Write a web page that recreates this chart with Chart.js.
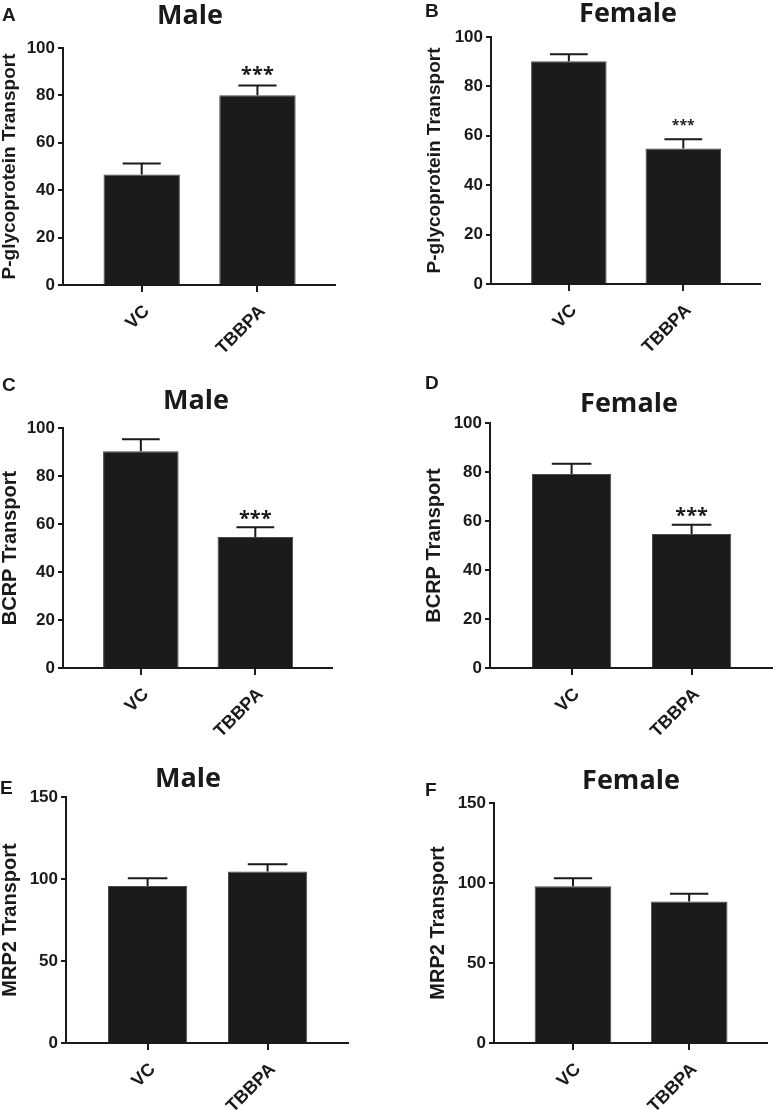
<!DOCTYPE html>
<html>
<head>
<meta charset="utf-8">
<script src="https://cdn.jsdelivr.net/npm/chart.js@4"></script>
<style>
  html, body { margin: 0; padding: 0; background: #fff; width: 773px; height: 1110px; overflow: hidden; position: relative; }
  .title { position: absolute; font: bold 27px "Open Sans"; line-height: 27px; color: #1a1a1a; transform: translateX(-50%); white-space: nowrap; }
  .letter { position: absolute; font: bold 19px "Liberation Sans"; line-height: 19px; color: #1a1a1a; }
</style>
</head>
<body>
<script>
// Groups on the x axis
const groups = ['VC', 'TBBPA'];

// P-glycoprotein transport (mean, SEM)
const pgpMale = [46.6, 80.1];
const pgpMaleSem = [4.7, 4.1];
const pgpFemale = [90.2, 54.9];
const pgpFemaleSem = [2.8, 3.7];

// BCRP transport
const bcrpMale = [90.3, 54.6];
const bcrpMaleSem = [5.0, 4.0];
const bcrpFemale = [79.2, 54.7];
const bcrpFemaleSem = [4.2, 3.8];

// MRP2 transport
const mrp2Male = [95.8, 104.6];
const mrp2MaleSem = [4.7, 4.4];
const mrp2Female = [97.9, 88.5];
const mrp2FemaleSem = [5.0, 4.8];

// significance marks and tick labels
const sigTbbpa = ['', '***'];
const noSig = ['', ''];
const ticks100 = [0, 20, 40, 60, 80, 100];
const ticks150 = [0, 50, 100, 150];

const ink = '#1a1a1a';
Chart.defaults.font.family = 'Liberation Sans';
Chart.defaults.color = ink;

// draws the upper SEM whisker and the stars over each bar
const errorBars = {
  id: 'errorBars',
  afterDatasetsDraw(chart, args, opts) {
    const { ctx } = chart;
    const yScale = chart.scales.y;
    const meta = chart.getDatasetMeta(0);
    const data = chart.data.datasets[0].data;
    ctx.save();
    ctx.strokeStyle = ink;
    ctx.fillStyle = ink;
    ctx.lineWidth = 2;
    meta.data.forEach((bar, i) => {
      const top = yScale.getPixelForValue(data[i].y + opts.sem[i]);
      const half = bar.width / 4;
      ctx.beginPath();
      ctx.moveTo(bar.x, bar.y);
      ctx.lineTo(bar.x, top);
      ctx.moveTo(bar.x - half, top);
      ctx.lineTo(bar.x + half, top);
      ctx.stroke();
      if (opts.stars[i]) {
        ctx.font = `bold ${opts.starSize}px "Open Sans"`;
        ctx.textAlign = 'center';
        ctx.textBaseline = 'alphabetic';
        ctx.fillText(opts.stars[i], bar.x, top - opts.starGap);
      }
    });
    ctx.restore();
  }
};

const panels = [
  { letter: 'A', title: 'Male', yLabel: 'P-glycoprotein Transport', yLabelSize: 19, values: pgpMale, sem: pgpMaleSem, stars: sigTbbpa, yTicks: ticks100,
    box: { left: 63, right: 335, top: 48, bottom: 285, canvasLeft: 0 }, titleAt: [190, 14], letterAt: [2, 7], starSize: 20, starGap: 4 },
  { letter: 'B', title: 'Female', yLabel: 'P-glycoprotein Transport', yLabelSize: 19, values: pgpFemale, sem: pgpFemaleSem, stars: sigTbbpa, yTicks: ticks100,
    box: { left: 491, right: 760, top: 37, bottom: 284, canvasLeft: 425 }, titleAt: [628, 12], letterAt: [425, 3], starSize: 14, starGap: 9 },
  { letter: 'C', title: 'Male', yLabel: 'BCRP Transport', yLabelSize: 20, values: bcrpMale, sem: bcrpMaleSem, stars: sigTbbpa, yTicks: ticks100,
    box: { left: 63, right: 332, top: 428, bottom: 668, canvasLeft: 0 }, titleAt: [196, 399], letterAt: [2, 377], starSize: 20, starGap: 2 },
  { letter: 'D', title: 'Female', yLabel: 'BCRP Transport', yLabelSize: 20, values: bcrpFemale, sem: bcrpFemaleSem, stars: sigTbbpa, yTicks: ticks100,
    box: { left: 490, right: 772, top: 423, bottom: 668, canvasLeft: 424 }, titleAt: [629, 402], letterAt: [425, 375], starSize: 20, starGap: 3 },
  { letter: 'E', title: 'Male', yLabel: 'MRP2 Transport', yLabelSize: 20, values: mrp2Male, sem: mrp2MaleSem, stars: noSig, yTicks: ticks150,
    box: { left: 66, right: 348, top: 797, bottom: 1043, canvasLeft: 0 }, titleAt: [188, 777], letterAt: [0, 780], starSize: 20, starGap: 2 },
  { letter: 'F', title: 'Female', yLabel: 'MRP2 Transport', yLabelSize: 20, values: mrp2Female, sem: mrp2FemaleSem, stars: noSig, yTicks: ticks150,
    box: { left: 494, right: 767, top: 803, bottom: 1043, canvasLeft: 428 }, titleAt: [631, 779], letterAt: [425, 782], starSize: 20, starGap: 2 }
];

panels.forEach(p => {
  const b = p.box;
  const padTop = 20;
  const padRight = 6;
  const xHeight = 70;
  const canvasTop = b.top - padTop;

  const canvas = document.createElement('canvas');
  canvas.width = b.right + padRight - b.canvasLeft;
  canvas.height = b.bottom + xHeight - canvasTop;
  canvas.style.position = 'absolute';
  canvas.style.left = b.canvasLeft + 'px';
  canvas.style.top = canvasTop + 'px';
  document.body.appendChild(canvas);

  const title = document.createElement('div');
  title.className = 'title';
  title.textContent = p.title;
  title.style.left = p.titleAt[0] + 'px';
  title.style.top = (p.titleAt[1] - 14) + 'px';
  document.body.appendChild(title);

  const letter = document.createElement('div');
  letter.className = 'letter';
  letter.textContent = p.letter;
  letter.style.left = p.letterAt[0] + 'px';
  letter.style.top = (p.letterAt[1] - 2) + 'px';
  document.body.appendChild(letter);

  new Chart(canvas, {
    type: 'bar',
    data: {
      datasets: [{
        data: p.values.map((v, i) => ({ x: i + 1, y: v })),
        backgroundColor: '#1b1b1b',
        borderColor: '#4a4a4a',
        borderWidth: 1,
        barPercentage: 0.66,
        categoryPercentage: 1
      }]
    },
    options: {
      responsive: false,
      animation: false,
      layout: { padding: { left: 0, top: padTop, right: padRight, bottom: 0 } },
      plugins: {
        legend: { display: false },
        tooltip: { enabled: false },
        errorBars: { sem: p.sem, stars: p.stars, starSize: p.starSize, starGap: p.starGap }
      },
      scales: {
        x: {
          type: 'linear',
          min: 0.32,
          max: 2.67,
          offset: false,
          afterBuildTicks: s => { s.ticks = groups.map((g, i) => ({ value: i + 1 })); },
          afterFit: s => { s.height = xHeight; },
          grid: { offset: false, drawOnChartArea: false, drawTicks: true, tickLength: 7, color: ink, lineWidth: 2 },
          border: { display: true, color: ink, width: 2 },
          ticks: {
            minRotation: 45, maxRotation: 45, padding: 9, labelOffset: 5, color: ink,
            font: { family: 'Liberation Sans', weight: 'bold', size: 18 },
            callback: v => groups[v - 1] ?? ''
          }
        },
        y: {
          min: 0,
          max: p.yTicks[p.yTicks.length - 1],
          afterBuildTicks: s => { s.ticks = p.yTicks.map(v => ({ value: v })); },
          afterFit: s => { s.width = b.left - b.canvasLeft; },
          grid: { drawOnChartArea: false, drawTicks: true, tickLength: 5, color: ink, lineWidth: 2 },
          border: { display: true, color: ink, width: 2 },
          ticks: { padding: 3, color: ink, font: { family: 'Liberation Sans', weight: 'bold', size: 17 } },
          title: {
            display: true, text: p.yLabel, color: ink, padding: 0,
            font: { family: 'Liberation Sans', weight: 'bold', size: p.yLabelSize, lineHeight: 1 }
          }
        }
      }
    },
    plugins: [errorBars]
  });
});
</script>
</body>
</html>
